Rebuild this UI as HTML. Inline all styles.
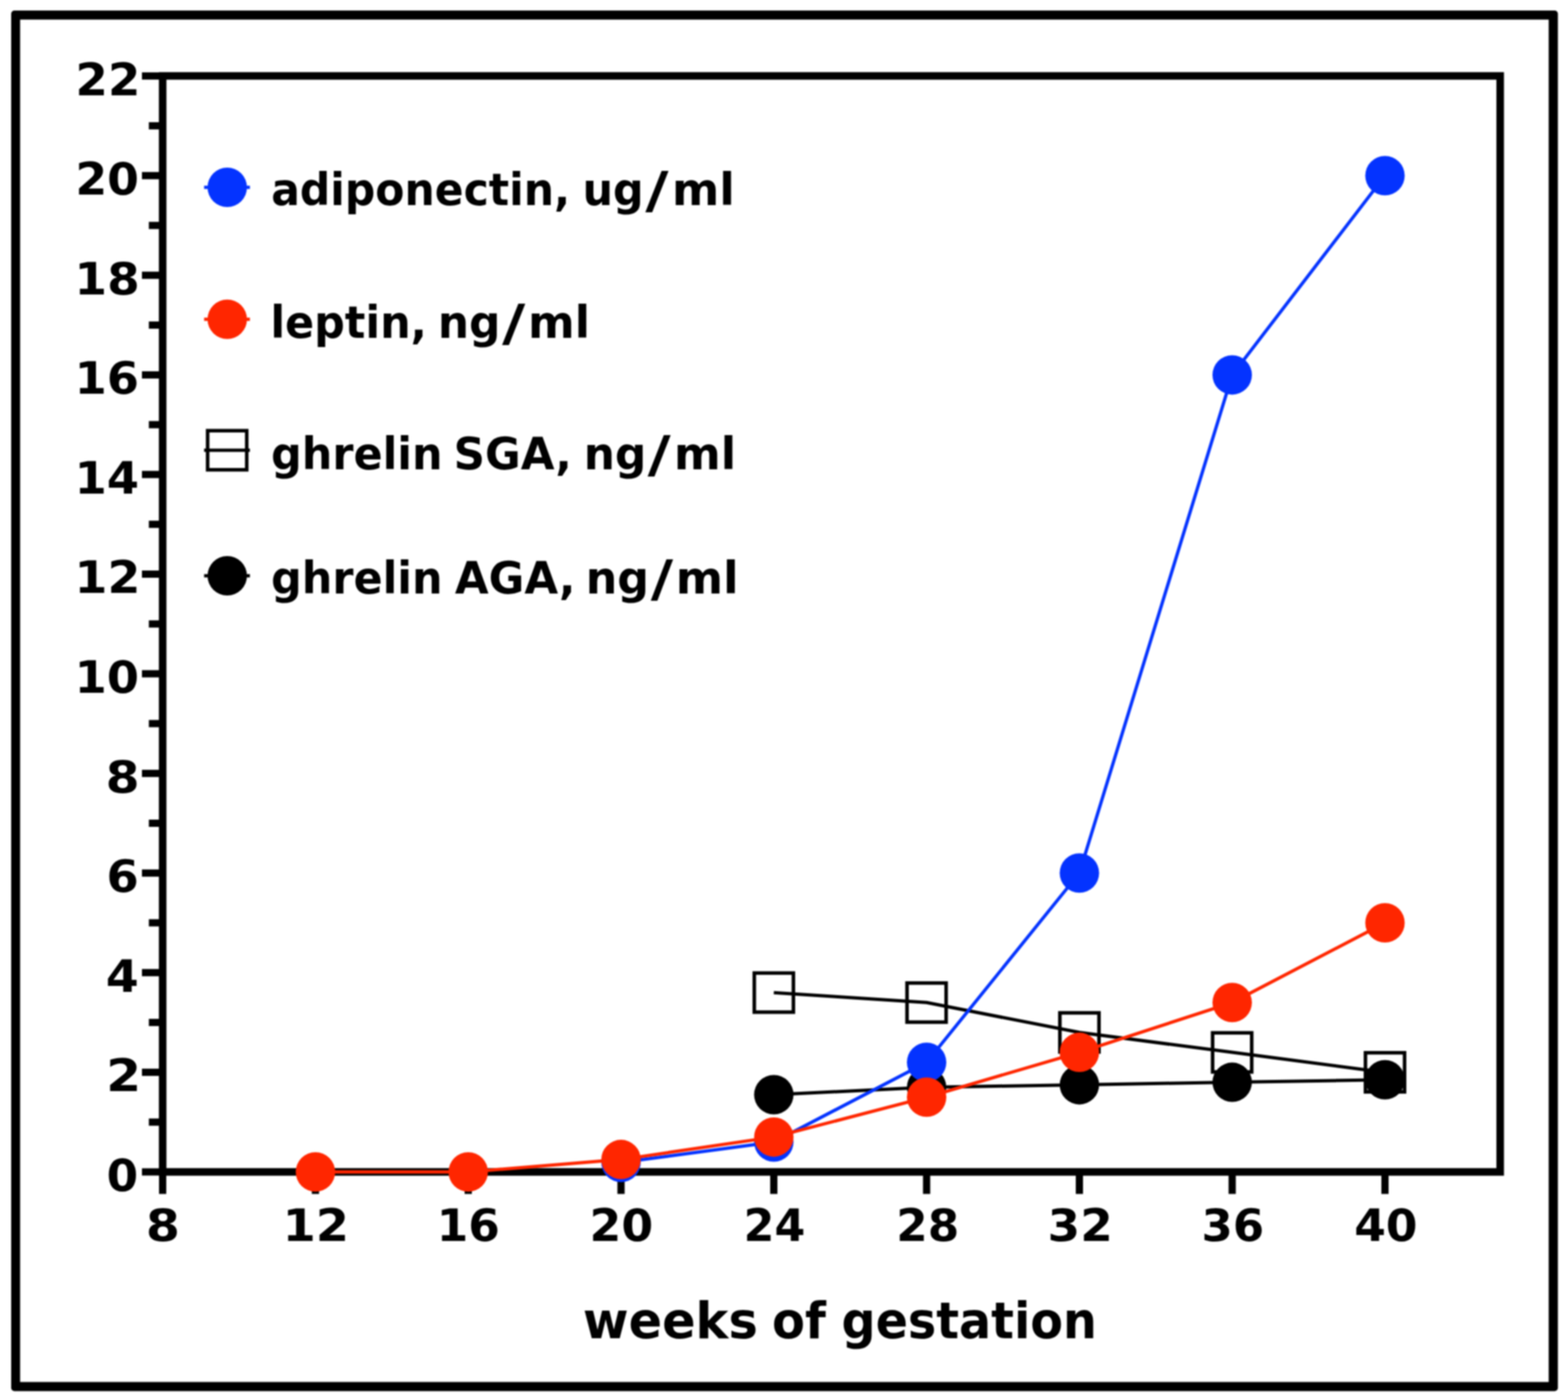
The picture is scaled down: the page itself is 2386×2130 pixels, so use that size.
<!DOCTYPE html>
<html><head><meta charset="utf-8"><title>Hormones by weeks of gestation</title>
<style>
html,body{margin:0;padding:0;background:#fff;}
body{width:2386px;height:2130px;overflow:hidden;}
svg{display:block;filter:blur(1px);}
text{font-family:'DejaVu Sans', 'Liberation Sans', sans-serif;font-weight:bold;fill:#000;}
</style></head><body>
<svg width="2386" height="2130" viewBox="0 0 2386 2130">
<rect x="0" y="0" width="2386" height="2130" fill="#fff"/>
<rect x="17" y="16" width="2353.6" height="2100.5" rx="5" fill="#000"/>
<rect x="30.6" y="29.8" width="2326" height="2072.8" fill="#fff"/>
<rect x="247.5" y="115.5" width="2035.3" height="1667.5" fill="none" stroke="#000" stroke-width="11.5"/>
<line x1="216" y1="1783.0" x2="247.5" y2="1783.0" stroke="#000" stroke-width="11"/>
<line x1="226.5" y1="1707.2" x2="247.5" y2="1707.2" stroke="#000" stroke-width="11"/>
<line x1="216" y1="1631.4" x2="247.5" y2="1631.4" stroke="#000" stroke-width="11"/>
<line x1="226.5" y1="1555.6" x2="247.5" y2="1555.6" stroke="#000" stroke-width="11"/>
<line x1="216" y1="1479.8" x2="247.5" y2="1479.8" stroke="#000" stroke-width="11"/>
<line x1="226.5" y1="1404.0" x2="247.5" y2="1404.0" stroke="#000" stroke-width="11"/>
<line x1="216" y1="1328.3" x2="247.5" y2="1328.3" stroke="#000" stroke-width="11"/>
<line x1="226.5" y1="1252.5" x2="247.5" y2="1252.5" stroke="#000" stroke-width="11"/>
<line x1="216" y1="1176.7" x2="247.5" y2="1176.7" stroke="#000" stroke-width="11"/>
<line x1="226.5" y1="1100.9" x2="247.5" y2="1100.9" stroke="#000" stroke-width="11"/>
<line x1="216" y1="1025.1" x2="247.5" y2="1025.1" stroke="#000" stroke-width="11"/>
<line x1="226.5" y1="949.3" x2="247.5" y2="949.3" stroke="#000" stroke-width="11"/>
<line x1="216" y1="873.5" x2="247.5" y2="873.5" stroke="#000" stroke-width="11"/>
<line x1="226.5" y1="797.7" x2="247.5" y2="797.7" stroke="#000" stroke-width="11"/>
<line x1="216" y1="721.9" x2="247.5" y2="721.9" stroke="#000" stroke-width="11"/>
<line x1="226.5" y1="646.1" x2="247.5" y2="646.1" stroke="#000" stroke-width="11"/>
<line x1="216" y1="570.4" x2="247.5" y2="570.4" stroke="#000" stroke-width="11"/>
<line x1="226.5" y1="494.6" x2="247.5" y2="494.6" stroke="#000" stroke-width="11"/>
<line x1="216" y1="418.8" x2="247.5" y2="418.8" stroke="#000" stroke-width="11"/>
<line x1="226.5" y1="343.0" x2="247.5" y2="343.0" stroke="#000" stroke-width="11"/>
<line x1="216" y1="267.2" x2="247.5" y2="267.2" stroke="#000" stroke-width="11"/>
<line x1="226.5" y1="191.4" x2="247.5" y2="191.4" stroke="#000" stroke-width="11"/>
<line x1="216" y1="115.6" x2="247.5" y2="115.6" stroke="#000" stroke-width="11"/>
<line x1="247.5" y1="1783.0" x2="247.5" y2="1816.5" stroke="#000" stroke-width="11"/>
<line x1="480.0" y1="1783.0" x2="480.0" y2="1816.5" stroke="#000" stroke-width="11"/>
<line x1="712.5" y1="1783.0" x2="712.5" y2="1816.5" stroke="#000" stroke-width="11"/>
<line x1="945.0" y1="1783.0" x2="945.0" y2="1816.5" stroke="#000" stroke-width="11"/>
<line x1="1177.5" y1="1783.0" x2="1177.5" y2="1816.5" stroke="#000" stroke-width="11"/>
<line x1="1410.0" y1="1783.0" x2="1410.0" y2="1816.5" stroke="#000" stroke-width="11"/>
<line x1="1642.5" y1="1783.0" x2="1642.5" y2="1816.5" stroke="#000" stroke-width="11"/>
<line x1="1875.0" y1="1783.0" x2="1875.0" y2="1816.5" stroke="#000" stroke-width="11"/>
<line x1="2107.5" y1="1783.0" x2="2107.5" y2="1816.5" stroke="#000" stroke-width="11"/>
<text x="162.16" y="1811.90" font-size="68" textLength="48.02" lengthAdjust="spacingAndGlyphs">0</text>
<text x="161.56" y="1660.32" font-size="68" textLength="53.38" lengthAdjust="spacingAndGlyphs">2</text>
<text x="161.12" y="1508.74" font-size="68" textLength="50.21" lengthAdjust="spacingAndGlyphs">4</text>
<text x="162.04" y="1357.16" font-size="68" textLength="49.22" lengthAdjust="spacingAndGlyphs">6</text>
<text x="160.83" y="1205.58" font-size="68" textLength="51.70" lengthAdjust="spacingAndGlyphs">8</text>
<text x="113.40" y="1054.00" font-size="68" textLength="98.18" lengthAdjust="spacingAndGlyphs">10</text>
<text x="113.20" y="902.42" font-size="68" textLength="100.60" lengthAdjust="spacingAndGlyphs">12</text>
<text x="113.40" y="750.84" font-size="68" textLength="98.18" lengthAdjust="spacingAndGlyphs">14</text>
<text x="113.40" y="599.26" font-size="68" textLength="98.18" lengthAdjust="spacingAndGlyphs">16</text>
<text x="113.30" y="447.68" font-size="68" textLength="99.37" lengthAdjust="spacingAndGlyphs">18</text>
<text x="114.68" y="296.10" font-size="68" textLength="96.84" lengthAdjust="spacingAndGlyphs">20</text>
<text x="114.77" y="144.52" font-size="68" textLength="98.92" lengthAdjust="spacingAndGlyphs">22</text>
<text x="222.12" y="1888.00" font-size="68" textLength="51.82" lengthAdjust="spacingAndGlyphs">8</text>
<text x="429.94" y="1888.00" font-size="68" textLength="101.30" lengthAdjust="spacingAndGlyphs">12</text>
<text x="664.46" y="1888.00" font-size="68" textLength="96.35" lengthAdjust="spacingAndGlyphs">16</text>
<text x="897.08" y="1888.00" font-size="68" textLength="96.95" lengthAdjust="spacingAndGlyphs">20</text>
<text x="1131.54" y="1888.00" font-size="68" textLength="93.87" lengthAdjust="spacingAndGlyphs">24</text>
<text x="1363.83" y="1888.00" font-size="68" textLength="95.98" lengthAdjust="spacingAndGlyphs">28</text>
<text x="1594.05" y="1888.00" font-size="68" textLength="99.37" lengthAdjust="spacingAndGlyphs">32</text>
<text x="1828.26" y="1888.00" font-size="68" textLength="95.41" lengthAdjust="spacingAndGlyphs">36</text>
<text x="2060.65" y="1888.00" font-size="68" textLength="96.36" lengthAdjust="spacingAndGlyphs">40</text>
<text x="412.65" y="311.50" font-size="68" textLength="454.98" lengthAdjust="spacingAndGlyphs">adiponectin,</text>
<text x="886.41" y="311.50" font-size="68" textLength="93.03" lengthAdjust="spacingAndGlyphs">ug</text>
<text x="982.00" y="315.90" font-size="76" textLength="35.30" lengthAdjust="spacingAndGlyphs">/</text>
<text x="1022.50" y="311.50" font-size="68" textLength="95.78" lengthAdjust="spacingAndGlyphs">ml</text>
<text x="411.44" y="513.70" font-size="68" textLength="238.24" lengthAdjust="spacingAndGlyphs">leptin,</text>
<text x="666.31" y="513.70" font-size="68" textLength="95.27" lengthAdjust="spacingAndGlyphs">ng</text>
<text x="764.10" y="518.10" font-size="76" textLength="35.30" lengthAdjust="spacingAndGlyphs">/</text>
<text x="803.49" y="513.70" font-size="68" textLength="94.40" lengthAdjust="spacingAndGlyphs">ml</text>
<text x="412.62" y="713.50" font-size="68" textLength="260.72" lengthAdjust="spacingAndGlyphs">ghrelin</text>
<text x="690.33" y="713.50" font-size="68" textLength="179.82" lengthAdjust="spacingAndGlyphs">SGA,</text>
<text x="888.31" y="713.50" font-size="68" textLength="95.27" lengthAdjust="spacingAndGlyphs">ng</text>
<text x="985.40" y="717.90" font-size="76" textLength="35.00" lengthAdjust="spacingAndGlyphs">/</text>
<text x="1025.47" y="713.50" font-size="68" textLength="94.63" lengthAdjust="spacingAndGlyphs">ml</text>
<text x="412.62" y="902.80" font-size="68" textLength="260.72" lengthAdjust="spacingAndGlyphs">ghrelin</text>
<text x="692.33" y="902.80" font-size="68" textLength="183.36" lengthAdjust="spacingAndGlyphs">AGA,</text>
<text x="891.14" y="902.80" font-size="68" textLength="96.41" lengthAdjust="spacingAndGlyphs">ng</text>
<text x="990.30" y="907.20" font-size="76" textLength="34.01" lengthAdjust="spacingAndGlyphs">/</text>
<text x="1028.30" y="902.80" font-size="68" textLength="95.78" lengthAdjust="spacingAndGlyphs">ml</text>
<text x="886.93" y="2035.50" font-size="76" textLength="266.22" lengthAdjust="spacingAndGlyphs">weeks</text>
<text x="1174.82" y="2035.50" font-size="76" textLength="81.99" lengthAdjust="spacingAndGlyphs">of</text>
<text x="1280.54" y="2035.50" font-size="76" textLength="388.61" lengthAdjust="spacingAndGlyphs">gestation</text>
<polyline points="1177.5,1510.2 1410.0,1525.3 1642.5,1570.8 1875.0,1601.1 2107.5,1631.4" fill="none" stroke="#000" stroke-width="5" stroke-linejoin="round"/>
<rect x="1147.8" y="1480.4" width="59.5" height="59.5" fill="none" stroke="#000" stroke-width="5.4"/><rect x="1380.2" y="1495.6" width="59.5" height="59.5" fill="none" stroke="#000" stroke-width="5.4"/><rect x="1612.8" y="1541.0" width="59.5" height="59.5" fill="none" stroke="#000" stroke-width="5.4"/><rect x="1845.2" y="1571.4" width="59.5" height="59.5" fill="none" stroke="#000" stroke-width="5.4"/><rect x="2077.8" y="1601.7" width="59.5" height="59.5" fill="none" stroke="#000" stroke-width="5.4"/>
<polyline points="1177.5,1665.5 1410.0,1654.2 1642.5,1650.4 1875.0,1646.6 2107.5,1642.8" fill="none" stroke="#000" stroke-width="5" stroke-linejoin="round"/>
<circle cx="1177.5" cy="1665.5" r="30" fill="#000"/><circle cx="1410.0" cy="1654.2" r="30" fill="#000"/><circle cx="1642.5" cy="1650.4" r="30" fill="#000"/><circle cx="1875.0" cy="1646.6" r="30" fill="#000"/><circle cx="2107.5" cy="1642.8" r="30" fill="#000"/>
<polyline points="945.0,1768.6 1177.5,1737.5 1410.0,1616.3 1642.5,1328.3 1875.0,570.4 2107.5,267.2" fill="none" stroke="#0433FF" stroke-width="5" stroke-linejoin="round"/>
<circle cx="945.0" cy="1768.6" r="30" fill="#0433FF"/><circle cx="1177.5" cy="1737.5" r="30" fill="#0433FF"/><circle cx="1410.0" cy="1616.3" r="30" fill="#0433FF"/><circle cx="1642.5" cy="1328.3" r="30" fill="#0433FF"/><circle cx="1875.0" cy="570.4" r="30" fill="#0433FF"/><circle cx="2107.5" cy="267.2" r="30" fill="#0433FF"/>
<polyline points="480.0,1783.0 712.5,1783.0 945.0,1764.1 1177.5,1729.9 1410.0,1669.3 1642.5,1601.1 1875.0,1525.3 2107.5,1404.0" fill="none" stroke="#FF2600" stroke-width="5" stroke-linejoin="round"/>
<circle cx="480.0" cy="1783.0" r="30" fill="#FF2600"/><circle cx="712.5" cy="1783.0" r="30" fill="#FF2600"/><circle cx="945.0" cy="1764.1" r="30" fill="#FF2600"/><circle cx="1177.5" cy="1729.9" r="30" fill="#FF2600"/><circle cx="1410.0" cy="1669.3" r="30" fill="#FF2600"/><circle cx="1642.5" cy="1601.1" r="30" fill="#FF2600"/><circle cx="1875.0" cy="1525.3" r="30" fill="#FF2600"/><circle cx="2107.5" cy="1404.0" r="30" fill="#FF2600"/>
<line x1="310.6" y1="285" x2="380.3" y2="285" stroke="#0433FF" stroke-width="5"/>
<circle cx="345.8" cy="285" r="30" fill="#0433FF"/>
<line x1="310.6" y1="485.8" x2="380.3" y2="485.8" stroke="#FF2600" stroke-width="5"/>
<circle cx="345.8" cy="485.8" r="30" fill="#FF2600"/>
<line x1="310.6" y1="685" x2="380.3" y2="685" stroke="#000" stroke-width="5"/>
<rect x="315.95" y="655.25" width="59.5" height="59.5" fill="none" stroke="#000" stroke-width="5.4"/>
<line x1="310.6" y1="876" x2="380.3" y2="876" stroke="#000" stroke-width="5"/>
<circle cx="345.8" cy="876" r="30" fill="#000"/>
</svg></body></html>
